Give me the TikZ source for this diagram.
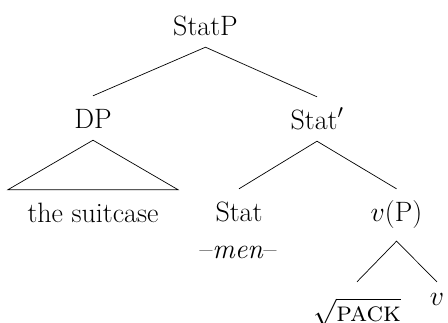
\RequirePackage{fix-cm}
\documentclass[tikz,border=0pt]{standalone}
\usepackage{fontspec}
\begin{document}
\begin{tikzpicture}[x=1pt,y=-1pt,
  lbl/.style={font=\fontsize{28}{33}\selectfont, inner sep=0pt, anchor=base, text height=32pt, text depth=12pt},
  edge/.style={line width=0.7pt}]
\useasboundingbox (0,0) rectangle (448,322);
\node[lbl] (statp) at (205.5,35) {StatP};
\node[lbl] (dp) at (93,128) {DP};
\node[lbl] (statbar) at (317,129) {Stat$'$};
\node[lbl, minimum width=170pt] (suit) at (93,222) {the suitcase};
\node[lbl] (stat) at (239,221) {Stat};
\node[lbl, text height=20pt] (men) at (238,258) {--\textit{men}--};
\node[lbl, text depth=20pt] (vp) at (396.5,221) {$v$(P)};
\node[lbl, text height=39pt] (root) at (357,321) {$\sqrt{\textsc{pack}}$};
\node[lbl, text height=23pt] (v) at (437,305) {$v$};
\draw[edge] (dp.north) -- (statp.south) -- (statbar.north);
\draw[edge] (dp.south) -- (suit.north west) -- (suit.north east) -- cycle;
\draw[edge] (stat.north) -- (statbar.south) -- (vp.north);
\draw[edge] (root.north) -- (vp.south) -- (v.north);
\end{tikzpicture}
\end{document}
